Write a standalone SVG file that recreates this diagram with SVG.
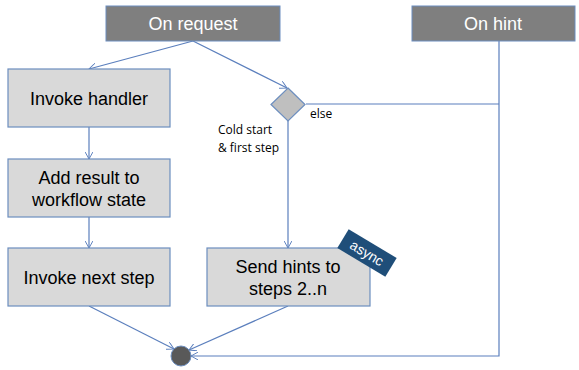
<svg xmlns="http://www.w3.org/2000/svg" width="579" height="370" viewBox="0 0 579 370">
<defs>
<marker id="arr" viewBox="0 0 10 10" refX="9" refY="5" markerWidth="8" markerHeight="8" orient="auto" markerUnits="userSpaceOnUse">
<path d="M0,0 L9,5 L0,10" fill="none" stroke="#5b7fbd" stroke-width="1.2"/>
</marker>
<style>
.hdr{fill:#7f7f7f;stroke:#6c8ebf;stroke-width:1}
.hdrt{font-family:"Liberation Sans",Arial,sans-serif;font-size:18px;fill:#ffffff;text-anchor:middle}
.box{fill:#d9d9d9;stroke:#6c8ebf;stroke-width:1.2}
.boxt{font-family:"Liberation Sans",Arial,sans-serif;font-size:18px;fill:#000;text-anchor:middle}
.lbl{font-family:"Open Sans","DejaVu Sans",sans-serif;font-size:12px;fill:#000}
.ln{fill:none;stroke:#5b7fbd;stroke-width:1.2}
</style>
</defs>
<rect width="579" height="370" fill="#ffffff"/>
<g id="connectors">
<path class="ln" d="M193,41 L89,69" marker-end="url(#arr)"/>
<path class="ln" d="M193,41 L287,88" marker-end="url(#arr)"/>
<path class="ln" d="M288,121 L288,248" marker-end="url(#arr)"/>
<path class="ln" d="M306,104 L499,104"/>
<path class="ln" d="M499,41 L499,356 L191,356" marker-end="url(#arr)"/>
<path class="ln" d="M89,127 L89,159" marker-end="url(#arr)"/>
<path class="ln" d="M89,217 L89,248" marker-end="url(#arr)"/>
<path class="ln" d="M89,306 L174,349" marker-end="url(#arr)"/>
<path class="ln" d="M288,306 L189,350" marker-end="url(#arr)"/>
</g>
<g id="on-request">
<rect class="hdr" x="106" y="6" width="174" height="35"/>
<text class="hdrt" x="193" y="30">On request</text>
</g>
<g id="on-hint">
<rect class="hdr" x="412" y="6" width="163" height="35"/>
<text class="hdrt" x="493" y="30">On hint</text>
</g>
<g id="invoke-handler">
<rect class="box" x="8" y="69" width="162" height="58"/>
<text class="boxt" x="89" y="104.500">Invoke handler</text>
</g>
<g id="add-result">
<rect class="box" x="8" y="159" width="162" height="58"/>
<text class="boxt" x="89" y="184">Add result to</text>
<text class="boxt" x="89" y="206">workflow state</text>
</g>
<g id="invoke-next">
<rect class="box" x="8" y="248" width="162" height="58"/>
<text class="boxt" x="89" y="284">Invoke next step</text>
</g>
<g id="decision">
<polygon points="288,88 305,104.500 288,121 271,104.500" fill="#bfbfbf" stroke="#6c8ebf" stroke-width="1.2"/>
<text class="lbl" x="310" y="118">else</text>
<text class="lbl" x="218" y="134">Cold start</text>
<text class="lbl" x="218" y="152">&amp; first step</text>
</g>
<g id="send-hints">
<rect class="box" x="207" y="248" width="163" height="58"/>
<text class="boxt" x="288" y="273">Send hints to</text>
<text class="boxt" x="288" y="295">steps 2..n</text>
<g transform="translate(367,253) rotate(31)">
<rect x="-28" y="-11" width="56" height="22" fill="#1f4e79"/>
<text x="0" y="5" font-family="Liberation Sans,Arial,sans-serif" font-size="14" fill="#ffffff" text-anchor="middle">async</text>
</g>
</g>
<g id="end">
<circle cx="181" cy="356" r="10" fill="#595959" stroke="#6c8ebf" stroke-width="1"/>
</g>
</svg>
